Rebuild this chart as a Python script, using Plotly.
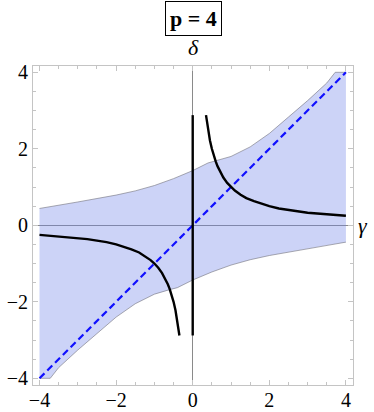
import plotly.graph_objects as go

# ---- data ----
upper_gamma = [-4.0, -3.5, -3.0, -2.5, -2.0, -1.5, -1.0, -0.5, 0.0, 0.4, 0.6, 1.0, 1.5, 2.0, 2.5, 3.0, 3.5, 3.72, 4.0]
upper_delta = [0.44, 0.52, 0.61, 0.70, 0.79, 0.90, 1.04, 1.22, 1.43, 1.63, 1.68, 1.80, 2.05, 2.40, 2.83, 3.26, 3.72, 4.0, 4.0]

lower_gamma = [-4.0, -3.72, -3.5, -3.0, -2.5, -2.0, -1.5, -1.0, -0.6, -0.4, 0.0, 0.5, 1.0, 1.5, 2.0, 2.5, 3.0, 3.5, 4.0]
lower_delta = [-4.0, -4.0, -3.72, -3.26, -2.83, -2.40, -2.05, -1.80, -1.68, -1.63, -1.43, -1.22, -1.04, -0.90, -0.79, -0.70, -0.61, -0.52, -0.44]

hyp_pos_gamma = [0.347, 0.37, 0.4, 0.45, 0.5, 0.55, 0.6, 0.65, 0.7, 0.8, 0.9, 1.0, 1.1, 1.25, 1.4, 1.6, 1.8, 2.0, 2.25, 2.5, 2.75, 3.0, 3.5, 4.0]
hyp_pos_delta = [2.88, 2.70, 2.50, 2.22, 2.00, 1.82, 1.67, 1.54, 1.43, 1.25, 1.11, 1.00, 0.91, 0.80, 0.71, 0.63, 0.56, 0.50, 0.44, 0.40, 0.36, 0.33, 0.29, 0.25]
hyp_neg_gamma = [-4.0, -3.5, -3.0, -2.75, -2.5, -2.25, -2.0, -1.8, -1.6, -1.4, -1.25, -1.1, -1.0, -0.9, -0.8, -0.7, -0.65, -0.6, -0.55, -0.5, -0.45, -0.4, -0.37, -0.347]
hyp_neg_delta = [-0.25, -0.29, -0.33, -0.36, -0.40, -0.44, -0.50, -0.56, -0.63, -0.71, -0.80, -0.91, -1.00, -1.11, -1.25, -1.43, -1.54, -1.67, -1.82, -2.00, -2.22, -2.50, -2.70, -2.88]

vert_gamma = [0.0, 0.0]
vert_delta = [-2.88, 2.88]

diag_gamma = [-4.0, 4.0]
diag_delta = [-4.0, 4.0]

tick_vals = [-4, -2, 0, 2, 4]
tick_text = ["−4", "−2", "0", "2", "4"]

title_text = "<b>p = 4</b>"

fig = go.Figure()

# shaded region polygon
fig.add_trace(go.Scatter(
    x=upper_gamma + lower_gamma[::-1],
    y=upper_delta + lower_delta[::-1],
    fill="toself", fillcolor="rgba(110,130,232,0.35)",
    line=dict(width=0), mode="lines", hoverinfo="skip"))
# boundaries
for gx, dy in [(upper_gamma, upper_delta), (lower_gamma, lower_delta)]:
    fig.add_trace(go.Scatter(x=gx, y=dy, mode="lines",
                             line=dict(color="rgba(120,120,130,0.8)", width=0.8)))
# diagonal dashed line
fig.add_trace(go.Scatter(x=diag_gamma, y=diag_delta, mode="lines",
                         line=dict(color="#1010ff", width=2.2, dash="7px,4px")))
# black curves
for gx, dy in [(hyp_pos_gamma, hyp_pos_delta), (hyp_neg_gamma, hyp_neg_delta), (vert_gamma, vert_delta)]:
    fig.add_trace(go.Scatter(x=gx, y=dy, mode="lines",
                             line=dict(color="black", width=2.4)))

axis_common = dict(
    automargin=False,
    showgrid=False, zeroline=True, zerolinecolor="#8a8a8a", zerolinewidth=1,
    showline=True, linecolor="#c4c4c4", linewidth=1, mirror="allticks",
    ticks="inside", ticklen=5, tickcolor="#c4c4c4", tickwidth=1,
    tickvals=tick_vals, ticktext=tick_text,
    tickfont=dict(family="Liberation Serif", size=20, color="black"),
    minor=dict(ticks="inside", ticklen=3, tickcolor="#c4c4c4", dtick=0.5, tick0=0, showgrid=False),
)

fig.update_layout(
    width=374, height=412,
    margin=dict(l=33, r=21, t=66, b=27, autoexpand=False),
    paper_bgcolor="white", plot_bgcolor="white",
    showlegend=False,
    xaxis=dict(range=[-4.17, 4.185], ticklabelstandoff=-3, **axis_common),
    yaxis=dict(range=[-4.175, 4.165], **axis_common),
    annotations=[
        dict(text=title_text, xref="paper", yref="paper", x=(193 - 33) / 320, y=(385 - 18) / 319,
             xanchor="center", yanchor="middle", showarrow=False,
             font=dict(family="Liberation Serif", size=22, color="black"),
             bordercolor="black", borderwidth=1, borderpad=4, bgcolor="white"),
        dict(text="<i>δ</i>", xref="paper", yref="paper", x=(193 - 33) / 320, y=(385 - 47) / 319,
             xanchor="center", yanchor="middle", showarrow=False,
             font=dict(family="Liberation Serif", size=22, color="black")),
        dict(text="<i>γ</i>", xref="paper", yref="y", x=(363 - 33) / 320, y=0,
             xanchor="center", yanchor="middle", showarrow=False,
             font=dict(family="Liberation Serif", size=22, color="black")),
    ],
)

fig.write_html("out.html", config={"displayModeBar": False},
               post_script="document.body.style.margin='0';document.body.style.overflow='hidden';")
